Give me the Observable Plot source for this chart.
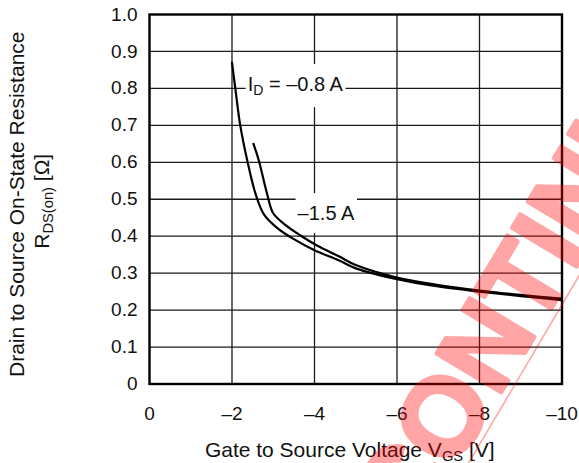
<!DOCTYPE html>
<html>
<head>
<meta charset="utf-8">
<script src="https://cdn.jsdelivr.net/npm/d3@7"></script>
<script src="https://cdn.jsdelivr.net/npm/@observablehq/plot@0.6"></script>
<style>
  html, body { margin: 0; padding: 0; background: #fff; }
</style>
</head>
<body>
<div id="chart"></div>
<script>
// R_DS(on) versus V_GS for two drain currents (P-channel MOSFET)

// I_D = -0.8 A
const vgsLow = [-2.0, -2.08, -2.2, -2.37, -2.57, -2.77, -3.1, -3.5, -4.0, -4.6, -5.0, -6.0, -7.0, -8.0, -9.0, -10.0];
const rdsLow = [0.87, 0.80, 0.70, 0.605, 0.515, 0.46, 0.422, 0.392, 0.362, 0.334, 0.313, 0.284, 0.264, 0.250, 0.238, 0.227];

// I_D = -1.5 A
const vgsHigh = [-2.52, -2.65, -2.85, -3.0, -3.3, -3.66, -4.06, -4.6, -5.0, -6.0, -7.0, -8.0, -9.0, -10.0];
const rdsHigh = [0.65, 0.605, 0.515, 0.462, 0.43, 0.402, 0.375, 0.345, 0.322, 0.288, 0.268, 0.253, 0.241, 0.231];

const xTicks = [0, -2, -4, -6, -8, -10];
const yTicks = [0, 0.1, 0.2, 0.3, 0.4, 0.5, 0.6, 0.7, 0.8, 0.9, 1.0];

// Curve annotations; "_{...}" marks a subscript
const curveLabels = [
  {x: -2.38, y: 0.81, text: "I_{D} = –0.8 A"},
  {x: -3.59, y: 0.461, text: "–1.5 A"}
];

const xTitle = "Gate to Source Voltage V_{GS} [V]";
const yTitle1 = "Drain to Source On-State Resistance";
const yTitle2 = "R_{DS(on)} [Ω]";

// Status stamp across the lower right
const stampText = [{x: -8.58, y: 0.172, text: "DISCONTINUED"}];
const stampRule = [{x1: -7.0, y1: -0.353, x2: -12.0, y2: 0.593}];

const low = vgsLow.map((v, i) => ({vgs: v, rds: rdsLow[i]}));
const high = vgsHigh.map((v, i) => ({vgs: v, rds: rdsHigh[i]}));

const fmtX = d => d === 0 ? "0" : "–" + Math.abs(d);
const fmtY = d => d === 0 ? "0" : d.toFixed(1);

const gridColor = "#1a1a1a";

const chart = Plot.plot({
  width: 579,
  height: 463,
  marginLeft: 149,
  marginRight: 17.5,
  marginTop: 14,
  marginBottom: 79.5,
  style: {
    fontFamily: "'Liberation Sans', Arial, Helvetica, sans-serif",
    fontSize: "19px",
    color: "#111",
    background: "#fff"
  },
  x: {domain: [0, -10], ticks: xTicks, tickFormat: fmtX, tickSize: 0, tickPadding: 22, label: null},
  y: {domain: [0, 1], ticks: yTicks, tickFormat: fmtY, tickSize: 0, tickPadding: 12, label: null},
  marks: [
    Plot.ruleX(xTicks.slice(1, -1), {stroke: gridColor, strokeWidth: 1.3}),
    Plot.ruleY(yTicks.slice(1, -1), {stroke: gridColor, strokeWidth: 1.3}),
    Plot.text(curveLabels, {x: "x", y: "y", text: "text", textAnchor: "start", lineAnchor: "middle",
      fontSize: 20, fill: "#111"}),
    Plot.frame({stroke: "#000", strokeWidth: 2.4}),
    Plot.line(low, {x: "vgs", y: "rds", curve: "catmull-rom", stroke: "#000", strokeWidth: 2.2}),
    Plot.line(high, {x: "vgs", y: "rds", curve: "catmull-rom", stroke: "#000", strokeWidth: 2.2}),
    Plot.text([xTitle], {frameAnchor: "bottom", dx: -6, dy: 66.5, textAnchor: "middle", lineAnchor: "middle",
      fontSize: 21, fill: "#111"}),
    Plot.text([yTitle1], {frameAnchor: "left", rotate: -90, dx: -132, dy: 5, textAnchor: "middle", lineAnchor: "middle",
      fontSize: 21, fill: "#111"}),
    Plot.text([yTitle2], {frameAnchor: "left", rotate: -90, dx: -107, dy: 2, textAnchor: "middle", lineAnchor: "middle",
      fontSize: 21, fill: "#111"}),
    Plot.link(stampRule, {x1: "x1", y1: "y1", x2: "x2", y2: "y2", stroke: "red", strokeOpacity: 0.35, strokeWidth: 1.6}),
    Plot.text(stampText, {x: "x", y: "y", text: "text", rotate: -59, fontSize: 110, fontWeight: "bold",
      fill: "red", stroke: "red", strokeWidth: 4, opacity: 0.35, textAnchor: "middle", lineAnchor: "middle"})
  ]
});

document.getElementById("chart").append(chart);

const SVGNS = "http://www.w3.org/2000/svg";
const labelTexts = new Set(curveLabels.map(d => d.text));

// Collect the annotation text nodes before their content is rewritten
const labelNodes = [];
d3.select(chart).selectAll("text").each(function () {
  if (labelTexts.has(this.textContent)) labelNodes.push(this);
});

// Turn "_{...}" runs into lowered, smaller tspans
function applySubscripts(el, scale = 0.7, shift = 0.2) {
  const raw = el.textContent;
  if (!raw.includes("_{")) return;
  const fs = parseFloat(getComputedStyle(el).fontSize);
  const off = fs * shift;
  el.textContent = "";
  let lowered = false;
  const add = (str, sub) => {
    if (!str) return;
    const t = document.createElementNS(SVGNS, "tspan");
    t.textContent = str;
    if (sub) {
      t.setAttribute("font-size", fs * scale);
      if (!lowered) t.setAttribute("dy", off);
    } else if (lowered) {
      t.setAttribute("dy", -off);
    }
    lowered = sub;
    el.appendChild(t);
  };
  const re = /_\{([^}]*)\}/g;
  let last = 0, m;
  while ((m = re.exec(raw)) !== null) {
    add(raw.slice(last, m.index), false);
    add(m[1], true);
    last = re.lastIndex;
  }
  add(raw.slice(last), false);
}

d3.select(chart).selectAll("text").each(function () { applySubscripts(this); });

// White boxes behind the curve annotations so the grid breaks around them
labelNodes.forEach(node => {
  const bb = node.getBBox();
  const padX = 2, padY = 9;
  const r = document.createElementNS(SVGNS, "rect");
  r.setAttribute("x", bb.x - padX);
  r.setAttribute("y", bb.y - padY);
  r.setAttribute("width", bb.width + 2 * padX);
  r.setAttribute("height", bb.height + 2 * padY);
  r.setAttribute("fill", "#fff");
  r.setAttribute("stroke", "none");
  const tf = node.getAttribute("transform");
  if (tf) r.setAttribute("transform", tf);
  node.parentNode.insertBefore(r, node);
});
</script>
</body>
</html>
